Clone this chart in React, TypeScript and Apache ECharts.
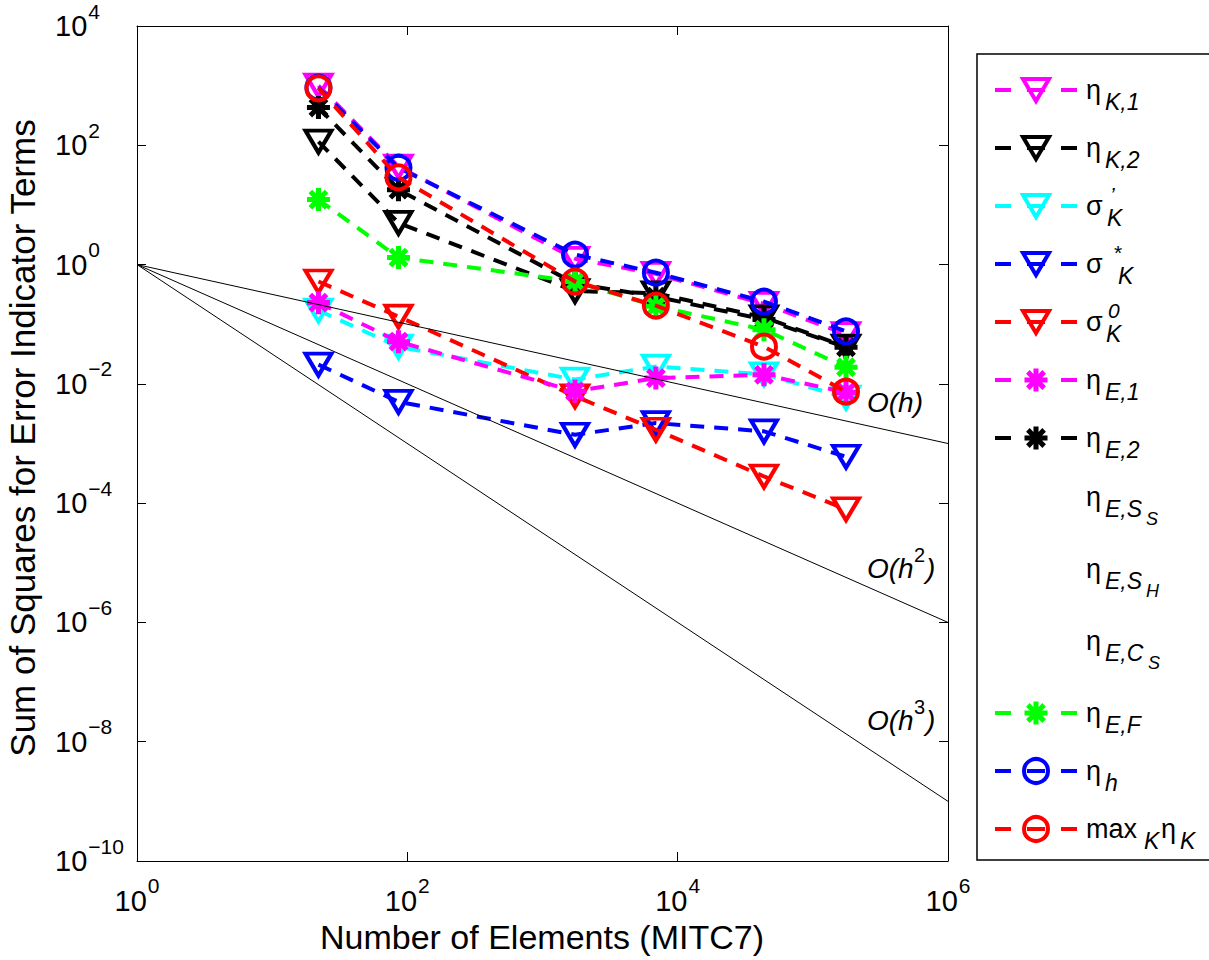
import React, { useEffect, useRef } from 'react';
import * as echarts from 'echarts';

// ---------- data ----------
const elements = [22, 86, 1740, 6900, 43500, 176000];
const etaK1 = [1000, 44, 1.25, 0.7, 0.22, 0.068];
const etaK2 = [115, 5.0, 0.36, 0.33, 0.13, 0.042];
const sigmaPrime = [0.17, 0.042, 0.0118, 0.0195, 0.0145, 0.0059];
const sigmaStar = [0.021, 0.005, 0.0014, 0.0022, 0.0016, 0.0006];
const sigmaZero = [0.52, 0.134, 0.0062, 0.0017, 0.00028, 0.000079];
const etaE1 = [0.23, 0.051, 0.0075, 0.0125, 0.0142, 0.0072];
const etaE2 = [430, 18, 0.48, 0.29, 0.12, 0.041];
const etaESS: number[] = [];
const etaESH: number[] = [];
const etaECS: number[] = [];
const etaEF = [12.3, 1.31, 0.52, 0.2, 0.081, 0.019];
const etaH = [930, 42, 1.47, 0.73, 0.24, 0.076];
const maxEtaK = [900, 29, 0.52, 0.205, 0.042, 0.0074];

const refX = [1, 1e6];
const refOh = [1, 1e-3];
const refOh2 = [1, 1e-6];
const refOh3 = [1, 1e-9];

const FONT = '"Liberation Sans", Arial, Helvetica, sans-serif';

function asteriskPoints(R: number, w: number): number[][] {
  const pts: number[][] = [];
  const r = w / Math.sin(Math.PI / 8);
  for (let k = 0; k < 8; k++) {
    const t = (k * Math.PI) / 4;
    const ux = Math.cos(t), uy = Math.sin(t), vx = -Math.sin(t), vy = Math.cos(t);
    pts.push([R * ux - w * vx, R * uy - w * vy]);
    pts.push([R * ux + w * vx, R * uy + w * vy]);
    const b = t + Math.PI / 8;
    pts.push([r * Math.cos(b), r * Math.sin(b)]);
  }
  return pts;
}
const AST = asteriskPoints(1, 0.22);
const AST_PATH =
  'path://M' + AST.map((p) => (p[0] * 10 + 10).toFixed(3) + ',' + (p[1] * 10 + 10).toFixed(3)).join(' L') + ' Z';
const TRI_PATH = 'path://M0,0 L20,0 L10,17 Z';

type Mk = 'tri' | 'circ' | 'ast' | 'none';
interface Def { name: string; data: number[]; color: string; mk: Mk; }

const defs: Def[] = [
  { name: 'etaK1', data: etaK1, color: '#ff00ff', mk: 'tri' },
  { name: 'etaK2', data: etaK2, color: '#000000', mk: 'tri' },
  { name: 'sigmaPrime', data: sigmaPrime, color: '#00ffff', mk: 'tri' },
  { name: 'sigmaStar', data: sigmaStar, color: '#0000ff', mk: 'tri' },
  { name: 'sigmaZero', data: sigmaZero, color: '#ff0000', mk: 'tri' },
  { name: 'etaE1', data: etaE1, color: '#ff00ff', mk: 'ast' },
  { name: 'etaE2', data: etaE2, color: '#000000', mk: 'ast' },
  { name: 'etaESS', data: etaESS, color: '#ffffff', mk: 'none' },
  { name: 'etaESH', data: etaESH, color: '#ffffff', mk: 'none' },
  { name: 'etaECS', data: etaECS, color: '#ffffff', mk: 'none' },
  { name: 'etaEF', data: etaEF, color: '#00ff00', mk: 'ast' },
  { name: 'etaH', data: etaH, color: '#0000ff', mk: 'circ' },
  { name: 'maxEtaK', data: maxEtaK, color: '#ff0000', mk: 'circ' },
];

const LINE_W = 4;
const DASH = [14, 10];

function makeSeries(d: Def, i: number) {
  const symbol = d.mk === 'tri' ? TRI_PATH : d.mk === 'circ' ? 'circle' : d.mk === 'ast' ? AST_PATH : 'none';
  const symbolSize = d.mk === 'tri' ? [26, 22] : d.mk === 'circ' ? 24 : 23;
  return {
    type: 'line',
    name: d.name,
    data: elements.slice(0, d.data.length).map((x, j) => [x, d.data[j]]),
    symbol,
    symbolSize,
    showAllSymbol: true,
    lineStyle: { color: d.color, width: LINE_W, type: DASH },
    itemStyle:
      d.mk === 'ast'
        ? { color: d.color, borderWidth: 0 }
        : { color: 'rgba(0,0,0,0)', borderColor: d.color, borderWidth: 4 },
    emphasis: { disabled: true },
    silent: true,
    z: 2 + i * 0.01,
  };
}

function refSeries(name: string, ys: number[]) {
  return {
    type: 'line',
    name,
    data: refX.map((x, j) => [x, ys[j]]),
    symbol: 'none',
    lineStyle: { color: '#000', width: 1, type: 'solid' },
    emphasis: { disabled: true },
    silent: true,
    z: 3,
  };
}

function expLabel(v: number) {
  const e = Math.round(Math.log10(v));
  const s = e < 0 ? '\u2212' + -e : String(e);
  return '{b|10}{e|' + s + '}';
}

const labelRich = {
  b: { fontSize: 29, fontFamily: FONT, color: '#000' },
  e: { fontSize: 21, fontFamily: FONT, color: '#000', padding: [0, 0, 30, 1] },
};

// ---------- legend drawing ----------
const LEG_X0 = 977;
const LEG_ROWS = [90, 148, 206, 264, 322, 380, 438, 497, 569, 641, 713, 771, 829];
const MK_X = 1036;
const TXT_X = 1086;

function txt(x: number, y: number, text: string, size: number, italic = false): any {
  return {
    type: 'text',
    x,
    y,
    silent: true,
    style: {
      text,
      fill: '#000',
      fontSize: size,
      fontFamily: FONT,
      fontStyle: italic ? 'italic' : 'normal',
      align: 'left',
      verticalAlign: 'middle',
    },
  };
}

function legendIcon(d: Def, y: number): any[] {
  if (d.mk === 'none') return [];
  const out: any[] = [];
  const ls = { stroke: d.color, lineWidth: LINE_W };
  out.push({ type: 'line', silent: true, shape: { x1: 995, y1: y, x2: 1011, y2: y }, style: ls });
  out.push({ type: 'line', silent: true, shape: { x1: 1061, y1: y, x2: 1077, y2: y }, style: ls });
  out.push({ type: 'line', silent: true, shape: { x1: 1027, y1: y, x2: 1045, y2: y }, style: ls });
  if (d.mk === 'tri') {
    out.push({
      type: 'polygon',
      silent: true,
      shape: { points: [[MK_X - 13, y - 11], [MK_X + 13, y - 11], [MK_X, y + 11]] },
      style: { fill: 'none', stroke: d.color, lineWidth: 4 },
    });
  } else if (d.mk === 'circ') {
    out.push({
      type: 'circle',
      silent: true,
      shape: { cx: MK_X, cy: y, r: 12 },
      style: { fill: 'none', stroke: d.color, lineWidth: 4 },
    });
  } else if (d.mk === 'ast') {
    out.push({
      type: 'polygon',
      silent: true,
      shape: { points: AST.map((p) => [MK_X + p[0] * 11.5, y + p[1] * 11.5]) },
      style: { fill: d.color },
    });
  }
  return out;
}

const MAIN = 27;
const SUB = 23;
const SUBSUB = 18;
const SUP = 21;
const SUBX = 1105;

function legendText(i: number, y: number): any[] {
  const ys = y + 12;
  const yss = y + 22;
  const yup = y - 12;
  switch (i) {
    case 0: return [txt(TXT_X, y, 'η', MAIN), txt(SUBX, ys, 'K,1', SUB, true)];
    case 1: return [txt(TXT_X, y, 'η', MAIN), txt(SUBX, ys, 'K,2', SUB, true)];
    case 2: return [txt(TXT_X, y, 'σ', MAIN), txt(1110, yup, '\u2019', SUP, true), txt(1107, ys, 'K', SUB, true)];
    case 3: return [txt(TXT_X, y, 'σ', MAIN), txt(1114, yup, '*', SUP, false), txt(1118, ys, 'K', SUB, true)];
    case 4: return [txt(TXT_X, y, 'σ', MAIN), txt(1108, yup, '0', SUP, true), txt(1106, ys, 'K', SUB, true)];
    case 5: return [txt(TXT_X, y, 'η', MAIN), txt(SUBX, ys, 'E,1', SUB, true)];
    case 6: return [txt(TXT_X, y, 'η', MAIN), txt(SUBX, ys, 'E,2', SUB, true)];
    case 7: return [txt(TXT_X, y, 'η', MAIN), txt(SUBX, ys, 'E,S', SUB, true), txt(1146, yss, 'S', SUBSUB, true)];
    case 8: return [txt(TXT_X, y, 'η', MAIN), txt(SUBX, ys, 'E,S', SUB, true), txt(1146, yss, 'H', SUBSUB, true)];
    case 9: return [txt(TXT_X, y, 'η', MAIN), txt(SUBX, ys, 'E,C', SUB, true), txt(1148, yss, 'S', SUBSUB, true)];
    case 10: return [txt(TXT_X, y, 'η', MAIN), txt(SUBX, ys, 'E,F', SUB, true)];
    case 11: return [txt(TXT_X, y, 'η', MAIN), txt(SUBX, ys, 'h', SUB, true)];
    case 12: return [
      txt(TXT_X, y, 'max', MAIN),
      txt(1144, ys, 'K', SUB, true),
      txt(1161, y, 'η', MAIN),
      txt(1180, ys, 'K', SUB, true),
    ];
    default: return [];
  }
}

function buildGraphic(): any[] {
  const g: any[] = [];
  g.push({
    type: 'rect',
    silent: true,
    shape: { x: LEG_X0, y: 54, width: 320, height: 806 },
    style: { fill: '#fff', stroke: '#000', lineWidth: 1.5 },
    z: 10,
  });
  defs.forEach((d, i) => {
    const y = LEG_ROWS[i];
    legendIcon(d, y).forEach((e) => g.push({ ...e, z: 11 }));
    legendText(i, y).forEach((e) => g.push({ ...e, z: 12 }));
  });
  // convergence-order labels
  g.push({ ...txt(867, 402, 'O(h)', 28, true), z: 12 });
  g.push({ ...txt(867, 568, 'O(h', 28, true), z: 12 });
  g.push({ ...txt(914, 555, '2', 20, false), z: 12 });
  g.push({ ...txt(926, 568, ')', 28, true), z: 12 });
  g.push({ ...txt(867, 720, 'O(h', 28, true), z: 12 });
  g.push({ ...txt(914, 707, '3', 20, false), z: 12 });
  g.push({ ...txt(926, 720, ')', 28, true), z: 12 });
  // axis titles
  g.push({
    type: 'text',
    x: 542,
    y: 937,
    silent: true,
    style: { text: 'Number of Elements (MITC7)', fill: '#000', fontSize: 34, fontFamily: FONT, align: 'center', verticalAlign: 'middle' },
    z: 12,
  });
  g.push({
    type: 'text',
    x: 22,
    y: 438,
    rotation: Math.PI / 2,
    silent: true,
    style: { text: 'Sum of Squares for Error Indicator Terms', fill: '#000', fontSize: 35, fontFamily: FONT, align: 'center', verticalAlign: 'middle' },
    z: 12,
  });
  return g;
}

export default function App() {
  const ref = useRef<HTMLDivElement>(null);
  useEffect(() => {
    if (!ref.current) return;
    const chart = echarts.init(ref.current, undefined, { renderer: 'svg' });
    const axisCommon = {
      type: 'log',
      logBase: 10,
      interval: 2,
      axisLine: { show: true, onZero: false, lineStyle: { color: '#000', width: 1 } },
      axisTick: { show: true, inside: true, length: 9, lineStyle: { color: '#000', width: 1 } },
      splitLine: { show: false },
      minorTick: { show: false },
      minorSplitLine: { show: false },
    };
    const option: any = {
      animation: false,
      backgroundColor: '#fff',
      grid: { left: 137, top: 26, width: 811, height: 835, show: false },
      xAxis: [
        {
          ...axisCommon,
          min: 1,
          max: 1e6,
          position: 'bottom',
          axisLabel: { show: true, formatter: expLabel, rich: labelRich, margin: 14, align: 'center' },
        },
        {
          ...axisCommon,
          min: 1,
          max: 1e6,
          position: 'top',
          axisLabel: { show: false },
        },
      ],
      yAxis: [
        {
          ...axisCommon,
          min: 1e-10,
          max: 1e4,
          position: 'left',
          axisLabel: { show: true, formatter: expLabel, rich: labelRich, margin: 82, align: 'left' },
        },
        {
          ...axisCommon,
          min: 1e-10,
          max: 1e4,
          position: 'right',
          axisLabel: { show: false },
        },
      ],
      series: [
        ...defs.map((d, i) => makeSeries(d, i)),
        refSeries('O(h)', refOh),
        refSeries('O(h2)', refOh2),
        refSeries('O(h3)', refOh3),
      ],
      graphic: buildGraphic(),
    };
    chart.setOption(option);
    return () => chart.dispose();
  }, []);
  return (
    <div
      ref={ref}
      style={{ position: 'absolute', left: 0, top: 0, width: 1209, height: 960, background: '#fff' }}
    />
  );
}
